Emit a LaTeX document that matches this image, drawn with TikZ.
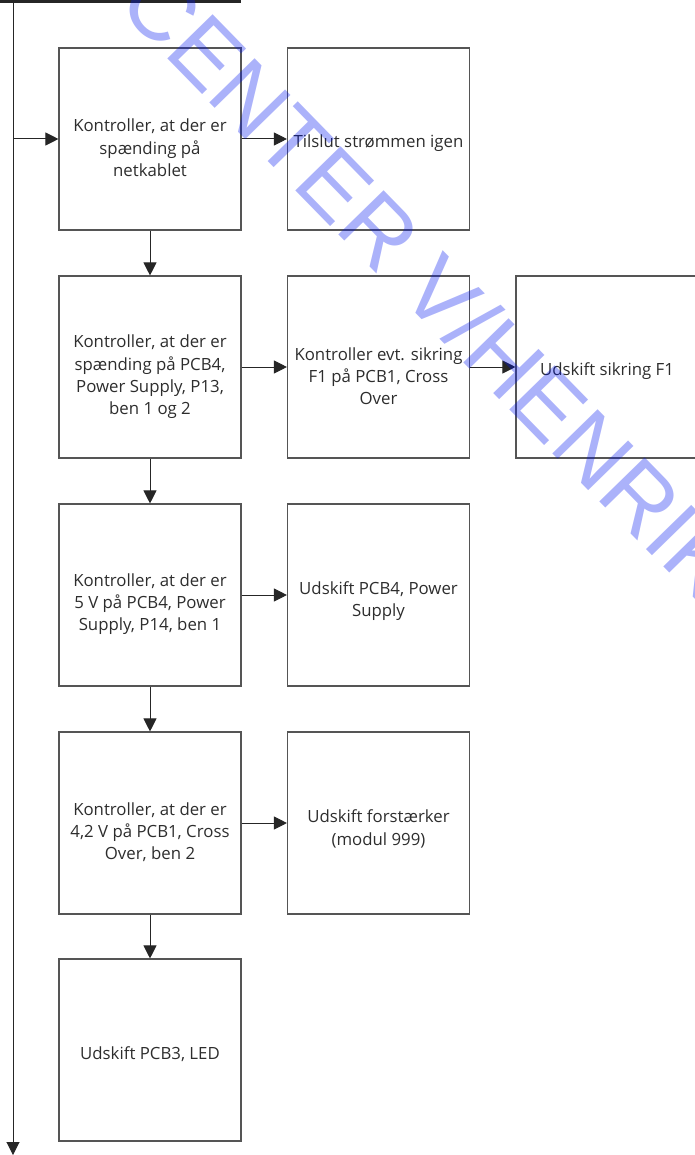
\documentclass[tikz,border=0pt]{standalone}
\usepackage{fontspec}
\setmainfont{Open Sans}
\usetikzlibrary{arrows.meta}
\definecolor{wm}{RGB}{0,20,240}
\definecolor{txt}{RGB}{45,45,45}
\definecolor{boxline}{RGB}{85,85,85}
\begin{document}
\begin{tikzpicture}[x=1pt,y=-1pt,
  box/.style={draw=boxline,line width=1.1pt,minimum width=182pt,minimum height=182pt,inner sep=0pt},
  lbl/.style={align=center,text=txt,inner sep=0pt,font=\fontsize{16.8}{22.3}\selectfont},
  arr/.style={draw=black!85,line width=1pt,-{Triangle[length=13pt,width=13pt]}},
  wmark/.style={text=wm,text opacity=0.33,font=\fontspec{Liberation Sans}\fontsize{92}{92}\selectfont,rotate=-45.7}
]
\useasboundingbox (0,0) rectangle (694,1155);
% top box (partially off page)
\node[draw=black!85,line width=2.5pt,minimum width=260pt,minimum height=60pt,inner sep=0pt] (top) at (110,-28.5) {};
\coordinate (tr0) at (13,1.5);
\coordinate (tr1) at (13,1155);
% left column
\node[box] (b1) at (150,139) {};
\node[box] (b2) at (150,367) {};
\node[box] (b3) at (150,595) {};
\node[box] (b4) at (150,823) {};
\node[box] (b5) at (150,1050) {};
% right column
\node[box] (r1) at (378.5,139) {};
\node[box] (r2) at (378.5,367) {};
\node[box] (r2b) at (607,367) {};
\node[box] (r3) at (378.5,595) {};
\node[box] (r4) at (378.5,823) {};
% texts
\node[lbl,yshift=-9pt] (t1) at (b1) {Kontroller, at der er\\spænding på\\netkablet};
\node[lbl,yshift=-10pt] (t2) at (b2) {Kontroller, at der er\\spænding på PCB4,\\Power Supply, P13,\\ben 1 og 2};
\node[lbl,yshift=-9pt] (t3) at (b3) {Kontroller, at der er\\5 V på PCB4, Power\\Supply, P14, ben 1};
\node[lbl,yshift=-9pt] (t4) at (b4) {Kontroller, at der er\\4,2 V på PCB1, Cross\\Over, ben 2};
\node[lbl,yshift=-4pt] (t5) at (b5) {Udskift PCB3, LED};
\node[lbl,yshift=-4pt] (u1) at (r1) {Tilslut strømmen igen};
\node[lbl,yshift=-9pt] (u2) at (r2) {Kontroller evt. sikring\\F1 på PCB1, Cross\\Over};
\node[lbl,yshift=-4pt] (u2b) at (r2b) {Udskift sikring F1};
\node[lbl,yshift=-6pt] (u3) at (r3) {Udskift PCB4, Power\\Supply};
\node[lbl,yshift=-6pt] (u4) at (r4) {Udskift forstærker\\(modul 999)};
% connectors
\draw[arr] (tr0) -- (tr1);
\draw[arr] (tr0 |- b1.west) -- (b1.west);
\draw[arr] (b1) -- (r1);
\draw[arr] (b2) -- (r2);
\draw[arr] (r2) -- (r2b);
\draw[arr] (b3) -- (r3);
\draw[arr] (b4) -- (r4);
\draw[arr] (b1) -- (b2);
\draw[arr] (b2) -- (b3);
\draw[arr] (b3) -- (b4);
\draw[arr] (b4) -- (b5);
% watermark
\node[wmark] (wmk) at (432,283) {CENTER V/HENRIK};
\end{tikzpicture}
\end{document}
